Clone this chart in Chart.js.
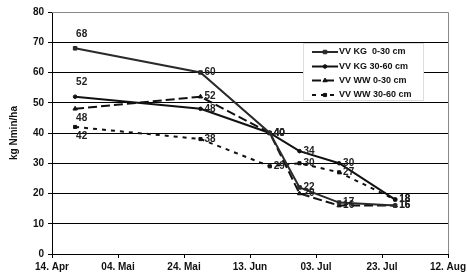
<!DOCTYPE html>
<html><head><meta charset="utf-8">
<script src="https://cdn.jsdelivr.net/npm/chart.js@4/dist/chart.umd.min.js"></script>
<style>html,body{margin:0;padding:0;background:#fff}#w{width:467px;height:276px}</style>
</head><body><div id="w"><canvas id="c"></canvas></div>
<script>
const startDate = '2003-04-14';
const sampleDates = ['2003-04-21','2003-05-29','2003-06-19','2003-06-28','2003-07-10','2003-07-27'];
const xTickLabels = ['14. Apr','04. Mai','24. Mai','13. Jun','03. Jul','23. Jul','12. Aug'];
const seriesNames = ['VV KG  0-30 cm','VV KG 30-60 cm','VV WW 0-30 cm','VV WW 30-60 cm'];
const kg030 = [68, 60, 40, 22, 17, 16];
const kg3060 = [52, 48, 40, 34, 30, 18];
const ww030 = [48, 52, 40, 20, 16, 16];
const ww3060 = [42, 38, 29, 30, 27, 18];

const DAY = 86400000;
const dayOf = s => Math.round((Date.parse(s) - Date.parse(startDate)) / DAY);
const xs = sampleDates.map(dayOf);
const pts = arr => arr.map((v, i) => ({x: xs[i], y: v}));

const FONT = '"Liberation Sans", Arial, sans-serif';
const styles = [
  {color:'#2a2a2a', dash:[], pointStyle:'rect', r:2.5},
  {color:'#111', dash:[], pointStyle:'circle', r:1.8},
  {color:'#111', dash:[9,4], pointStyle:'triangle', r:2.5},
  {color:'#111', dash:[4,5], pointStyle:'rect', r:2.2}
];
const seriesData = [kg030, kg3060, ww030, ww3060];
const datasets = seriesData.map((d, i) => ({
  label: seriesNames[i], data: pts(d),
  borderColor: styles[i].color, backgroundColor: styles[i].color,
  borderWidth: 2, borderDash: styles[i].dash,
  pointStyle: styles[i].pointStyle, pointRadius: styles[i].r,
  pointBorderWidth: 1, tension: 0
}));

const labelPlugin = {
  id: 'labels',
  afterDatasetsDraw(chart) {
    const ctx = chart.ctx;
    ctx.save();
    ctx.font = 'bold 10px ' + FONT;
    ctx.fillStyle = '#222';
    ctx.textBaseline = 'middle';
    chart.data.datasets.forEach((ds, di) => {
      const meta = chart.getDatasetMeta(di);
      meta.data.forEach((el, i) => {
        const v = ds.data[i].y;
        let x = el.x + 4, y = el.y;
        ctx.textAlign = 'left';
        if (i === 0) {
          x = el.x + 1;
          y = di < 2 ? el.y - 14 : el.y + 9;
        }
        ctx.fillText(String(v), x, y);
      });
    });
    ctx.restore();
  }
};

const framePlugin = {
  id: 'frame',
  afterDraw(chart) {
    const {ctx, chartArea: a} = chart;
    ctx.save();
    ctx.strokeStyle = '#888'; ctx.lineWidth = 1;
    ctx.beginPath();
    ctx.moveTo(a.left, a.top + 0.5); ctx.lineTo(a.right + 0.5, a.top + 0.5);
    ctx.lineTo(a.right + 0.5, a.bottom);
    ctx.stroke();
    // legend
    const bx = 303, by = 43, bw = 120, bh = 57;
    ctx.fillStyle = '#fff';
    ctx.fillRect(bx, by, bw, bh);
    ctx.strokeStyle = '#ddd';
    ctx.strokeRect(bx + 0.5, by + 0.5, bw, bh);
    ctx.font = 'bold 9px ' + FONT;
    ctx.textBaseline = 'middle';
    ctx.textAlign = 'left';
    const rows = [52, 66.5, 80.5, 95];
    chart.data.datasets.forEach((ds, i) => {
      const y = rows[i];
      ctx.strokeStyle = ds.borderColor; ctx.fillStyle = ds.borderColor; ctx.lineWidth = 2;
      ctx.setLineDash(ds.borderDash);
      ctx.beginPath(); ctx.moveTo(312, y); ctx.lineTo(338, y); ctx.stroke();
      ctx.setLineDash([]);
      ctx.lineWidth = 1;
      Chart.helpers.drawPoint(ctx, {pointStyle: ds.pointStyle, radius: ds.pointRadius, borderWidth: 1}, 325, y);
      ctx.fillStyle = '#111';
      ctx.fillText(ds.label, 339, y);
    });
    ctx.restore();
  }
};

new Chart(document.getElementById('c'), {
  type: 'line',
  data: {datasets},
  plugins: [labelPlugin, framePlugin],
  options: {
    responsive: true, maintainAspectRatio: false, animation: false,
    layout: {padding: {left: 0, top: 12, right: 19, bottom: 0}},
    plugins: {legend: {display: false}, tooltip: {enabled: false}},
    scales: {
      x: {
        type: 'linear', min: 0, max: 120,
        afterBuildTicks: s => { s.ticks = xTickLabels.map((_, i) => ({value: i * 20})); },
        ticks: {callback: (v) => xTickLabels[Math.round(v / 20)], color: '#111',
                font: {family: FONT, size: 10, weight: 'bold'}, maxRotation: 0, padding: 3},
        grid: {drawOnChartArea: false, drawTicks: true, tickLength: 4, color: '#000'},
        border: {color: '#000', width: 1},
        afterFit: s => { s.height = 22; s.paddingLeft = 0; s.paddingRight = 0; }
      },
      y: {
        min: 0, max: 80,
        ticks: {stepSize: 10, color: '#111', font: {family: FONT, size: 10, weight: 'bold'}, padding: 4},
        grid: {color: c => (c.tick && c.tick.value === 80) ? '#888' : '#000', tickColor: '#000', tickLength: 4},
        border: {color: '#000', width: 1},
        title: {display: true, text: 'kg Nmin/ha', color: '#111', font: {family: FONT, size: 10, weight: 'bold'}, padding: {top: 8, bottom: 0}},
        afterFit: s => { s.width = 52; s.paddingTop = 0; s.paddingBottom = 0; }
      }
    }
  }
});
</script>
</body></html>
